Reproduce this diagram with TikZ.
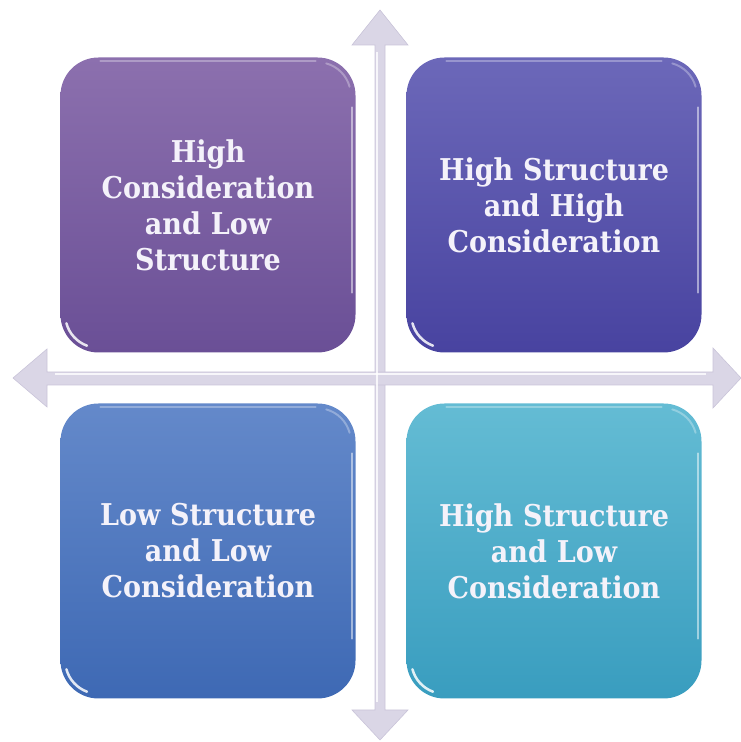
\documentclass[tikz,border=0pt]{standalone}
\usepackage{fontspec}
\newfontfamily\quadfont{DejaVu Serif Condensed}
\usetikzlibrary{calc}
\definecolor{tlTop}{HTML}{8C70AE}
\definecolor{tlBot}{HTML}{6A4F96}
\definecolor{trTop}{HTML}{6C68B9}
\definecolor{trBot}{HTML}{4843A0}
\definecolor{blTop}{HTML}{6489CA}
\definecolor{blBot}{HTML}{3E69B4}
\definecolor{brTop}{HTML}{64BCD4}
\definecolor{brBot}{HTML}{399DBF}
\definecolor{axisFill}{HTML}{DAD6E6}
\definecolor{axisLine}{HTML}{C9C4D9}
\definecolor{labelText}{HTML}{F4F2FA}
\tikzset{
  qbox/.style 2 args={rounded corners=38pt, minimum width=295pt, minimum height=295pt,
    inner sep=0pt, text width=275pt, align=center, top color=#1, bottom color=#2,
    font=\quadfont\bfseries\fontsize{30}{36}\selectfont, text=labelText},
  axisshape/.style={fill=axisFill, draw=axisLine, line width=0.6pt, line join=miter},
  axisgloss/.style={draw=white, opacity=0.8, line width=1.5pt},
  glosscorner/.style={draw=white, opacity=0.85, line width=2.5pt, line cap=round},
  glossedge/.style={draw=white, opacity=0.5, line width=2pt, line cap=round},
  glosstop/.style={draw=white, opacity=0.3, line width=2pt, line cap=round}
}
\newcommand\glossbox[1]{%
  \draw[glosscorner] ($(#1.south west)+(38,38)$) ++(195:33) arc[start angle=195, end angle=250, radius=33];
  \draw[glossedge] ($(#1.south east)+(-4,60)$) -- ($(#1.north east)+(-4,-50)$);
  \draw[glosstop] ($(#1.north west)+(40,-4)$) -- ($(#1.north east)+(-40,-4)$);
  \draw[glosstop] ($(#1.north east)+(-38,-38)$) ++(15:33) arc[start angle=15, end angle=75, radius=33];
}
\begin{document}
\begin{tikzpicture}[x=1pt, y=1pt]
  \useasboundingbox (0,0) rectangle (741,742);
  % axis coordinates
  \coordinate (vtop) at (380,732);
  \coordinate (vbot) at (380,2);
  \coordinate (hleft) at (13,364);
  \coordinate (hright) at (741,364);
  % vertical double arrow
  \path[axisshape] (vtop) -- (408,697) -- (385,697) -- (385,32) -- (408,32) -- (vbot)
     -- (352,32) -- (375,32) -- (375,697) -- (352,697) -- cycle;
  % horizontal double arrow
  \path[axisshape] (hleft) -- (47,393) -- (47,370) -- (713,370) -- (713,394) -- (hright)
     -- (713,334) -- (713,357) -- (47,357) -- (47,335) -- cycle;
  \draw[axisgloss] (377,690) -- (377,40);
  \draw[axisgloss] (55,368) -- (706,368);
  % quadrants
  \node[qbox={tlTop}{tlBot}] (tl) at (208,537) {High\\Consideration\\and Low\\Structure};
  \node[qbox={trTop}{trBot}] (tr) at (554,537) {High Structure\\and High\\Consideration};
  \node[qbox={blTop}{blBot}] (bl) at (208,191) {Low Structure\\and Low\\Consideration};
  \node[qbox={brTop}{brBot}] (br) at (554,191) {High Structure\\and Low\\Consideration};
  \glossbox{tl}\glossbox{tr}\glossbox{bl}\glossbox{br}
\end{tikzpicture}
\end{document}
